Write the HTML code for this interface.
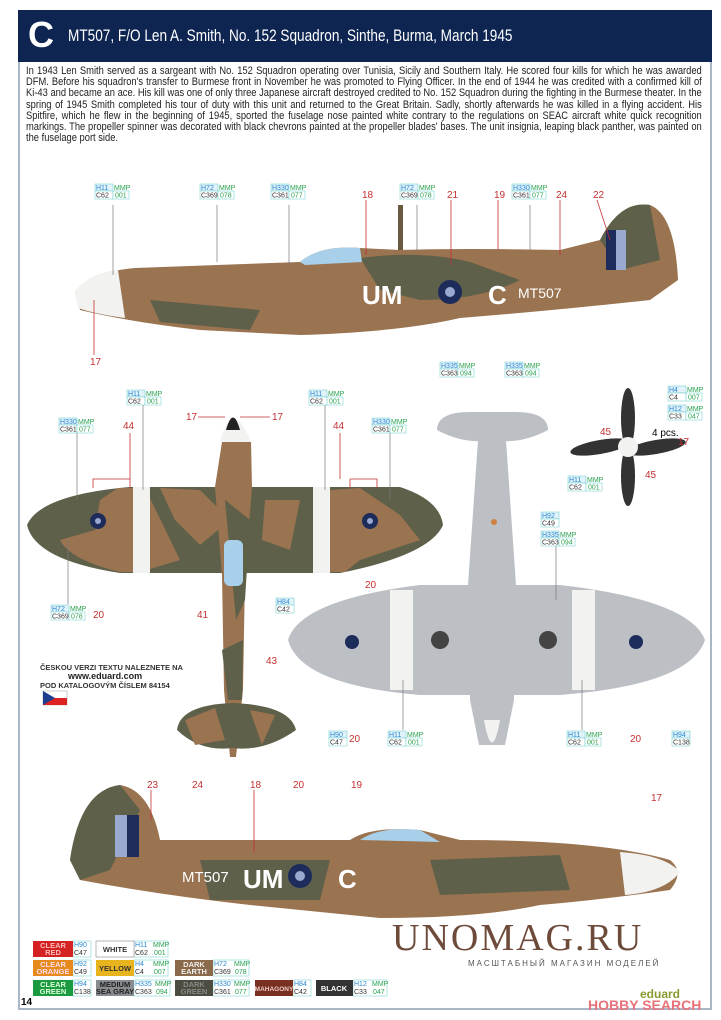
<!DOCTYPE html>
<html><head><meta charset="utf-8"><style>
body{margin:0;background:#fff;width:721px;height:1020px;overflow:hidden;font-family:"Liberation Sans",sans-serif}
.frame{position:absolute;left:18px;top:10px;width:694px;height:1000px;border:2px solid #a9b6c8;box-sizing:border-box}
.hdr{position:absolute;left:18px;top:10px;width:694px;height:52px;background:#0e2552;color:#fff}
.hdr b{position:absolute;left:10px;top:4px;font-size:36px}
.hdr span{position:absolute;left:50px;top:16px;font-size:17px;transform:scaleX(.8);transform-origin:left;white-space:nowrap}
.txt{position:absolute;left:26px;top:66px;width:795px;font-size:11px;line-height:11.2px;color:#222;text-align:justify;transform:scaleX(.85);transform-origin:left top}
svg{position:absolute;left:0;top:0}
.cb text{font-size:7px}
</style></head><body>
<div class="frame"></div>
<div class="hdr"><b>C</b><span>MT507, F/O Len A. Smith, No. 152 Squadron, Sinthe, Burma, March 1945</span></div>
<div class="txt">In 1943 Len Smith served as a sargeant with No. 152 Squadron operating over Tunisia, Sicily and Southern Italy. He scored four kills for which he was awarded DFM. Before his squadron's transfer to Burmese front in November he was promoted to Flying Officer. In the end of 1944 he was credited with a confirmed kill of Ki-43 and became an ace. His kill was one of only three Japanese aircraft destroyed credited to No. 152 Squadron during the fighting in the Burmese theater. In the spring of 1945 Smith completed his tour of duty with this unit and returned to the Great Britain. Sadly, shortly afterwards he was killed in a flying accident. His Spitfire, which he flew in the beginning of 1945, sported the fuselage nose painted white contrary to the regulations on SEAC aircraft white quick recognition markings. The propeller spinner was decorated with black chevrons painted at the propeller blades' bases. The unit insignia, leaping black panther, was painted on the fuselage port side.</div>
<svg width="721" height="1020" font-family="Liberation Sans,sans-serif">
<!-- top side view -->
<path d="M75,292 Q90,272 135,268 L300,262 Q320,245 360,248 L400,250 Q460,248 560,250 L600,240 Q620,200 650,205 Q675,215 678,280 L650,300 Q560,310 460,318 Q400,332 300,335 L200,330 Q130,322 80,310 Z" fill="#9a7350"/>
<path d="M360,258 Q420,250 470,262 L520,280 Q480,300 420,300 L380,290 Z M600,240 Q620,200 650,205 L660,260 L620,270 Z M150,300 L260,310 L250,330 L160,322 Z" fill="#5f604a"/>
<path d="M75,292 Q90,272 118,270 L125,318 Q95,314 78,308 Z" fill="#f2f2f0"/>
<path d="M300,262 Q320,245 360,248 L362,262 L305,265 Z" fill="#a8d0ea"/>
<rect x="606" y="230" width="20" height="40" fill="#1d2c5a"/><rect x="616" y="230" width="10" height="40" fill="#9aa9cf"/>
<text x="362" y="304" font-size="26" fill="#fff" font-weight="bold">UM</text>
<circle cx="450" cy="292" r="12" fill="#1d2c5a"/><circle cx="450" cy="292" r="5" fill="#9aa9cf"/>
<text x="488" y="304" font-size="26" fill="#fff" font-weight="bold">C</text>
<text x="518" y="298" font-size="14" fill="#fff">MT507</text>
<rect x="398" y="205" width="5" height="45" fill="#6a5a40"/>
<!-- top view -->
<path d="M27,525 Q40,495 130,487 L400,487 Q440,500 443,525 Q430,555 340,573 L120,573 Q35,560 27,525 Z" fill="#5f604a"/>
<path d="M100,500 L118,488 L145,488 L180,560 L140,572 L120,572 Q70,560 60,540 L95,530 Z M160,488 L200,490 L230,520 L200,545 L175,520 Z M330,490 L360,488 L400,515 L420,540 L360,560 L345,572 L320,572 Z M265,500 L300,500 L290,550 L262,540 Z" fill="#9a7350"/>
<rect x="133" y="487" width="17" height="86" fill="#f2f2f0"/><rect x="313" y="487" width="17" height="86" fill="#f2f2f0"/>
<circle cx="98" cy="521" r="8" fill="#1d2c5a"/><circle cx="98" cy="521" r="3" fill="#9aa9cf"/><circle cx="370" cy="521" r="8" fill="#1d2c5a"/><circle cx="370" cy="521" r="3" fill="#9aa9cf"/>
<path d="M222,442 L251,442 L252,487 L245,575 L243,690 L236,757 L230,757 L224,690 L222,575 L215,487 Z" fill="#9a7350"/>
<path d="M225,500 L250,520 L245,600 L236,620 Z M222,650 L243,640 L242,700 L228,700 Z" fill="#5f604a"/>
<path d="M220,442 Q232,395 251,442 Z" fill="#f2f2f0"/><path d="M226,430 Q233,405 240,430 Z" fill="#222"/>
<rect x="224" y="540" width="19" height="46" rx="6" fill="#a8d0ea"/>
<path d="M232,703 Q180,705 177,730 Q200,752 232,748 Q265,752 296,730 Q290,705 232,703 Z" fill="#5f604a"/>
<path d="M185,720 L215,708 L225,740 L195,745 Z M250,710 L275,715 L262,745 Z" fill="#9a7350"/>
<!-- bottom view -->
<path d="M288,640 Q300,600 420,585 L560,585 Q690,600 705,640 Q690,685 560,695 L420,695 Q300,685 288,640 Z" fill="#bcc0c4"/>
<path d="M478,440 Q492,400 506,440 L516,585 L514,700 L505,745 L479,745 L470,700 L468,585 Z" fill="#bcc0c4"/>
<path d="M437,430 Q437,412 470,412 L515,412 Q548,412 548,430 Q520,445 492,440 Q465,445 437,430 Z" fill="#bcc0c4"/>
<path d="M484,720 Q492,765 500,720 Z" fill="#f2f2f0"/>
<rect x="390" y="590" width="23" height="100" fill="#f2f2f0"/><rect x="572" y="590" width="23" height="100" fill="#f2f2f0"/>
<circle cx="352" cy="642" r="7" fill="#1d2c5a"/><circle cx="636" cy="642" r="7" fill="#1d2c5a"/>
<circle cx="440" cy="640" r="9" fill="#444"/><circle cx="548" cy="640" r="9" fill="#444"/>
<circle cx="494" cy="522" r="3" fill="#d08040"/>
<!-- prop -->
<ellipse cx="628" cy="418" rx="7" ry="30" fill="#333"/><ellipse cx="628" cy="476" rx="7" ry="30" fill="#333"/>
<ellipse cx="600" cy="447" rx="30" ry="7" fill="#333" transform="rotate(-10 600 447)"/><ellipse cx="656" cy="447" rx="30" ry="7" fill="#333" transform="rotate(-10 656 447)"/>
<circle cx="628" cy="447" r="10" fill="#f2f2f0"/>
<!-- bottom side view -->
<path d="M70,860 Q80,790 120,785 Q150,790 160,840 L350,840 Q370,826 420,830 L460,840 Q600,840 670,860 Q685,872 670,890 Q600,900 540,905 Q480,918 380,918 L250,905 Q160,895 80,880 Z" fill="#9a7350"/>
<path d="M70,860 Q80,790 120,785 L140,810 L110,870 L80,880 Z M200,860 L330,860 L320,900 L210,900 Z M430,860 L560,855 L570,890 L440,895 Z" fill="#5f604a"/>
<path d="M620,852 Q665,855 680,872 Q665,892 625,895 Z" fill="#f2f2f0"/>
<path d="M360,840 Q380,826 420,830 L440,842 Z" fill="#a8d0ea"/>
<rect x="115" y="815" width="24" height="42" fill="#1d2c5a"/><rect x="115" y="815" width="12" height="42" fill="#9aa9cf"/>
<text x="182" y="882" font-size="15" fill="#fff">MT507</text>
<text x="243" y="888" font-size="26" fill="#fff" font-weight="bold">UM</text>
<circle cx="300" cy="876" r="12" fill="#1d2c5a"/><circle cx="300" cy="876" r="5" fill="#9aa9cf"/>
<text x="338" y="888" font-size="26" fill="#fff" font-weight="bold">C</text>
<!-- callouts -->
<g font-size="10" fill="#c43030">
<text x="362" y="198">18</text><text x="447" y="198">21</text><text x="494" y="198">19</text><text x="556" y="198">24</text><text x="593" y="198">22</text>
<text x="90" y="365">17</text><text x="186" y="420">17</text><text x="272" y="420">17</text>
<text x="123" y="429">44</text><text x="333" y="429">44</text><text x="93" y="618">20</text><text x="197" y="618">41</text><text x="365" y="588">20</text>
<text x="266" y="664">43</text><text x="600" y="435">45</text><text x="678" y="445">17</text><text x="645" y="478">45</text><text x="630" y="742">20</text><text x="349" y="742">20</text>
<text x="147" y="788">23</text><text x="192" y="788">24</text><text x="250" y="788">18</text><text x="293" y="788">20</text><text x="351" y="788">19</text><text x="651" y="801">17</text>
</g>
<text x="652" y="436" font-size="10">4 pcs.</text>
<g stroke="#c43030" stroke-width="0.8" fill="none"><line x1="366" y1="200" x2="366" y2="255"/><line x1="451" y1="200" x2="451" y2="265"/><line x1="498" y1="200" x2="498" y2="250"/><line x1="560" y1="200" x2="560" y2="255"/><line x1="597" y1="200" x2="610" y2="240"/><line x1="94" y1="355" x2="94" y2="300"/><line x1="254" y1="790" x2="254" y2="852"/><line x1="151" y1="790" x2="151" y2="820"/><line x1="198" y1="417" x2="225" y2="417"/><line x1="240" y1="417" x2="270" y2="417"/><path d="M93,488 V479 H130 V488 M130,479 V433"/><path d="M350,479 H377 V488 M350,488 V479 M340,479 V433"/></g>
<g stroke="#777" stroke-width="0.7"><line x1="113" y1="205" x2="113" y2="275"/><line x1="217" y1="205" x2="217" y2="262"/><line x1="289" y1="205" x2="289" y2="265"/><line x1="417" y1="205" x2="417" y2="250"/><line x1="530" y1="205" x2="530" y2="250"/><line x1="143" y1="405" x2="143" y2="490"/><line x1="325" y1="405" x2="325" y2="490"/><line x1="77" y1="433" x2="77" y2="500"/><line x1="390" y1="433" x2="390" y2="500"/><line x1="68" y1="604" x2="68" y2="540"/><line x1="556" y1="546" x2="556" y2="600"/><line x1="403" y1="730" x2="403" y2="680"/><line x1="582" y1="730" x2="582" y2="680"/></g>
<g font-size="7.5" font-weight="bold">
<text x="40" y="670" fill="#333">ČESKOU VERZI TEXTU NALEZNETE NA</text>
<text x="68" y="679" fill="#222" font-size="9">www.eduard.com</text>
<text x="40" y="688" fill="#333">POD KATALOGOVÝM ČÍSLEM 84154</text>
</g>
<rect x="43" y="691" width="24" height="14" fill="#fff" stroke="#999" stroke-width=".5"/><rect x="43" y="698" width="24" height="7" fill="#d22"/><path d="M43,691 L55,698 L43,705 Z" fill="#1d3e8e"/>
<g class="cb" font-family="Liberation Sans Narrow,Liberation Sans,sans-serif">
<g transform="translate(95,184)"><rect width="18" height="7" fill="#e2f2fb" stroke="#6cc" stroke-width=".5"/><rect y="7" width="18" height="8" fill="#fff" stroke="#6cc" stroke-width=".5"/><rect x="18" y="7" width="16" height="8" fill="#fff" stroke="#6cc" stroke-width=".5"/><text x="1" y="6" fill="#2a8ad0">H11</text><text x="19" y="6" fill="#2aa050">MMP</text><text x="1" y="13.5" fill="#333">C62</text><text x="20" y="13.5" fill="#2aa050">001</text></g>
<g transform="translate(200,184)"><rect width="18" height="7" fill="#e2f2fb" stroke="#6cc" stroke-width=".5"/><rect y="7" width="18" height="8" fill="#fff" stroke="#6cc" stroke-width=".5"/><rect x="18" y="7" width="16" height="8" fill="#fff" stroke="#6cc" stroke-width=".5"/><text x="1" y="6" fill="#2a8ad0">H72</text><text x="19" y="6" fill="#2aa050">MMP</text><text x="1" y="13.5" fill="#333">C369</text><text x="20" y="13.5" fill="#2aa050">078</text></g>
<g transform="translate(271,184)"><rect width="18" height="7" fill="#e2f2fb" stroke="#6cc" stroke-width=".5"/><rect y="7" width="18" height="8" fill="#fff" stroke="#6cc" stroke-width=".5"/><rect x="18" y="7" width="16" height="8" fill="#fff" stroke="#6cc" stroke-width=".5"/><text x="1" y="6" fill="#2a8ad0">H330</text><text x="19" y="6" fill="#2aa050">MMP</text><text x="1" y="13.5" fill="#333">C361</text><text x="20" y="13.5" fill="#2aa050">077</text></g>
<g transform="translate(400,184)"><rect width="18" height="7" fill="#e2f2fb" stroke="#6cc" stroke-width=".5"/><rect y="7" width="18" height="8" fill="#fff" stroke="#6cc" stroke-width=".5"/><rect x="18" y="7" width="16" height="8" fill="#fff" stroke="#6cc" stroke-width=".5"/><text x="1" y="6" fill="#2a8ad0">H72</text><text x="19" y="6" fill="#2aa050">MMP</text><text x="1" y="13.5" fill="#333">C369</text><text x="20" y="13.5" fill="#2aa050">078</text></g>
<g transform="translate(512,184)"><rect width="18" height="7" fill="#e2f2fb" stroke="#6cc" stroke-width=".5"/><rect y="7" width="18" height="8" fill="#fff" stroke="#6cc" stroke-width=".5"/><rect x="18" y="7" width="16" height="8" fill="#fff" stroke="#6cc" stroke-width=".5"/><text x="1" y="6" fill="#2a8ad0">H330</text><text x="19" y="6" fill="#2aa050">MMP</text><text x="1" y="13.5" fill="#333">C361</text><text x="20" y="13.5" fill="#2aa050">077</text></g>
<g transform="translate(127,390)"><rect width="18" height="7" fill="#e2f2fb" stroke="#6cc" stroke-width=".5"/><rect y="7" width="18" height="8" fill="#fff" stroke="#6cc" stroke-width=".5"/><rect x="18" y="7" width="16" height="8" fill="#fff" stroke="#6cc" stroke-width=".5"/><text x="1" y="6" fill="#2a8ad0">H11</text><text x="19" y="6" fill="#2aa050">MMP</text><text x="1" y="13.5" fill="#333">C62</text><text x="20" y="13.5" fill="#2aa050">001</text></g>
<g transform="translate(309,390)"><rect width="18" height="7" fill="#e2f2fb" stroke="#6cc" stroke-width=".5"/><rect y="7" width="18" height="8" fill="#fff" stroke="#6cc" stroke-width=".5"/><rect x="18" y="7" width="16" height="8" fill="#fff" stroke="#6cc" stroke-width=".5"/><text x="1" y="6" fill="#2a8ad0">H11</text><text x="19" y="6" fill="#2aa050">MMP</text><text x="1" y="13.5" fill="#333">C62</text><text x="20" y="13.5" fill="#2aa050">001</text></g>
<g transform="translate(59,418)"><rect width="18" height="7" fill="#e2f2fb" stroke="#6cc" stroke-width=".5"/><rect y="7" width="18" height="8" fill="#fff" stroke="#6cc" stroke-width=".5"/><rect x="18" y="7" width="16" height="8" fill="#fff" stroke="#6cc" stroke-width=".5"/><text x="1" y="6" fill="#2a8ad0">H330</text><text x="19" y="6" fill="#2aa050">MMP</text><text x="1" y="13.5" fill="#333">C361</text><text x="20" y="13.5" fill="#2aa050">077</text></g>
<g transform="translate(372,418)"><rect width="18" height="7" fill="#e2f2fb" stroke="#6cc" stroke-width=".5"/><rect y="7" width="18" height="8" fill="#fff" stroke="#6cc" stroke-width=".5"/><rect x="18" y="7" width="16" height="8" fill="#fff" stroke="#6cc" stroke-width=".5"/><text x="1" y="6" fill="#2a8ad0">H330</text><text x="19" y="6" fill="#2aa050">MMP</text><text x="1" y="13.5" fill="#333">C361</text><text x="20" y="13.5" fill="#2aa050">077</text></g>
<g transform="translate(440,362)"><rect width="18" height="7" fill="#e2f2fb" stroke="#6cc" stroke-width=".5"/><rect y="7" width="18" height="8" fill="#fff" stroke="#6cc" stroke-width=".5"/><rect x="18" y="7" width="16" height="8" fill="#fff" stroke="#6cc" stroke-width=".5"/><text x="1" y="6" fill="#2a8ad0">H335</text><text x="19" y="6" fill="#2aa050">MMP</text><text x="1" y="13.5" fill="#333">C363</text><text x="20" y="13.5" fill="#2aa050">094</text></g>
<g transform="translate(505,362)"><rect width="18" height="7" fill="#e2f2fb" stroke="#6cc" stroke-width=".5"/><rect y="7" width="18" height="8" fill="#fff" stroke="#6cc" stroke-width=".5"/><rect x="18" y="7" width="16" height="8" fill="#fff" stroke="#6cc" stroke-width=".5"/><text x="1" y="6" fill="#2a8ad0">H335</text><text x="19" y="6" fill="#2aa050">MMP</text><text x="1" y="13.5" fill="#333">C363</text><text x="20" y="13.5" fill="#2aa050">094</text></g>
<g transform="translate(668,386)"><rect width="18" height="7" fill="#e2f2fb" stroke="#6cc" stroke-width=".5"/><rect y="7" width="18" height="8" fill="#fff" stroke="#6cc" stroke-width=".5"/><rect x="18" y="7" width="16" height="8" fill="#fff" stroke="#6cc" stroke-width=".5"/><text x="1" y="6" fill="#2a8ad0">H4</text><text x="19" y="6" fill="#2aa050">MMP</text><text x="1" y="13.5" fill="#333">C4</text><text x="20" y="13.5" fill="#2aa050">007</text></g>
<g transform="translate(668,405)"><rect width="18" height="7" fill="#e2f2fb" stroke="#6cc" stroke-width=".5"/><rect y="7" width="18" height="8" fill="#fff" stroke="#6cc" stroke-width=".5"/><rect x="18" y="7" width="16" height="8" fill="#fff" stroke="#6cc" stroke-width=".5"/><text x="1" y="6" fill="#2a8ad0">H12</text><text x="19" y="6" fill="#2aa050">MMP</text><text x="1" y="13.5" fill="#333">C33</text><text x="20" y="13.5" fill="#2aa050">047</text></g>
<g transform="translate(568,476)"><rect width="18" height="7" fill="#e2f2fb" stroke="#6cc" stroke-width=".5"/><rect y="7" width="18" height="8" fill="#fff" stroke="#6cc" stroke-width=".5"/><rect x="18" y="7" width="16" height="8" fill="#fff" stroke="#6cc" stroke-width=".5"/><text x="1" y="6" fill="#2a8ad0">H11</text><text x="19" y="6" fill="#2aa050">MMP</text><text x="1" y="13.5" fill="#333">C62</text><text x="20" y="13.5" fill="#2aa050">001</text></g>
<g transform="translate(541,531)"><rect width="18" height="7" fill="#e2f2fb" stroke="#6cc" stroke-width=".5"/><rect y="7" width="18" height="8" fill="#fff" stroke="#6cc" stroke-width=".5"/><rect x="18" y="7" width="16" height="8" fill="#fff" stroke="#6cc" stroke-width=".5"/><text x="1" y="6" fill="#2a8ad0">H335</text><text x="19" y="6" fill="#2aa050">MMP</text><text x="1" y="13.5" fill="#333">C363</text><text x="20" y="13.5" fill="#2aa050">094</text></g>
<g transform="translate(51,605)"><rect width="18" height="7" fill="#e2f2fb" stroke="#6cc" stroke-width=".5"/><rect y="7" width="18" height="8" fill="#fff" stroke="#6cc" stroke-width=".5"/><rect x="18" y="7" width="16" height="8" fill="#fff" stroke="#6cc" stroke-width=".5"/><text x="1" y="6" fill="#2a8ad0">H72</text><text x="19" y="6" fill="#2aa050">MMP</text><text x="1" y="13.5" fill="#333">C369</text><text x="20" y="13.5" fill="#2aa050">078</text></g>
<g transform="translate(388,731)"><rect width="18" height="7" fill="#e2f2fb" stroke="#6cc" stroke-width=".5"/><rect y="7" width="18" height="8" fill="#fff" stroke="#6cc" stroke-width=".5"/><rect x="18" y="7" width="16" height="8" fill="#fff" stroke="#6cc" stroke-width=".5"/><text x="1" y="6" fill="#2a8ad0">H11</text><text x="19" y="6" fill="#2aa050">MMP</text><text x="1" y="13.5" fill="#333">C62</text><text x="20" y="13.5" fill="#2aa050">001</text></g>
<g transform="translate(567,731)"><rect width="18" height="7" fill="#e2f2fb" stroke="#6cc" stroke-width=".5"/><rect y="7" width="18" height="8" fill="#fff" stroke="#6cc" stroke-width=".5"/><rect x="18" y="7" width="16" height="8" fill="#fff" stroke="#6cc" stroke-width=".5"/><text x="1" y="6" fill="#2a8ad0">H11</text><text x="19" y="6" fill="#2aa050">MMP</text><text x="1" y="13.5" fill="#333">C62</text><text x="20" y="13.5" fill="#2aa050">001</text></g>
<g transform="translate(541,512)"><rect width="18" height="7" fill="#e2f2fb" stroke="#6cc" stroke-width=".5"/><rect y="7" width="18" height="8" fill="#fff" stroke="#6cc" stroke-width=".5"/><text x="1" y="6" fill="#2a8ad0">H92</text><text x="1" y="13.5" fill="#333">C49</text></g>
<g transform="translate(276,598)"><rect width="18" height="7" fill="#e2f2fb" stroke="#6cc" stroke-width=".5"/><rect y="7" width="18" height="8" fill="#fff" stroke="#6cc" stroke-width=".5"/><text x="1" y="6" fill="#2a8ad0">H84</text><text x="1" y="13.5" fill="#333">C42</text></g>
<g transform="translate(329,731)"><rect width="18" height="7" fill="#e2f2fb" stroke="#6cc" stroke-width=".5"/><rect y="7" width="18" height="8" fill="#fff" stroke="#6cc" stroke-width=".5"/><text x="1" y="6" fill="#2a8ad0">H90</text><text x="1" y="13.5" fill="#333">C47</text></g>
<g transform="translate(672,731)"><rect width="18" height="7" fill="#e2f2fb" stroke="#6cc" stroke-width=".5"/><rect y="7" width="18" height="8" fill="#fff" stroke="#6cc" stroke-width=".5"/><text x="1" y="6" fill="#2a8ad0">H94</text><text x="1" y="13.5" fill="#333">C138</text></g>
<g transform="translate(73,941)"><rect width="18" height="16" fill="#fff" stroke="#6cc" stroke-width=".5"/><text x="1" y="6" fill="#2a8ad0">H90</text><text x="1" y="14" fill="#333">C47</text></g>
<g transform="translate(134,941)"><rect width="34" height="16" fill="#fff" stroke="#6cc" stroke-width=".5"/><text x="1" y="6" fill="#2a8ad0">H11</text><text x="19" y="6" fill="#2aa050">MMP</text><text x="1" y="14" fill="#333">C62</text><text x="20" y="14" fill="#2aa050">001</text></g>
<g transform="translate(73,960)"><rect width="18" height="16" fill="#fff" stroke="#6cc" stroke-width=".5"/><text x="1" y="6" fill="#2a8ad0">H92</text><text x="1" y="14" fill="#333">C49</text></g>
<g transform="translate(134,960)"><rect width="34" height="16" fill="#fff" stroke="#6cc" stroke-width=".5"/><text x="1" y="6" fill="#2a8ad0">H4</text><text x="19" y="6" fill="#2aa050">MMP</text><text x="1" y="14" fill="#333">C4</text><text x="20" y="14" fill="#2aa050">007</text></g>
<g transform="translate(213,960)"><rect width="36" height="16" fill="#fff" stroke="#6cc" stroke-width=".5"/><text x="1" y="6" fill="#2a8ad0">H72</text><text x="21" y="6" fill="#2aa050">MMP</text><text x="1" y="14" fill="#333">C369</text><text x="22" y="14" fill="#2aa050">078</text></g>
<g transform="translate(73,980)"><rect width="18" height="16" fill="#fff" stroke="#6cc" stroke-width=".5"/><text x="1" y="6" fill="#2a8ad0">H94</text><text x="1" y="14" fill="#333">C138</text></g>
<g transform="translate(134,980)"><rect width="36" height="16" fill="#fff" stroke="#6cc" stroke-width=".5"/><text x="1" y="6" fill="#2a8ad0">H335</text><text x="21" y="6" fill="#2aa050">MMP</text><text x="1" y="14" fill="#333">C363</text><text x="22" y="14" fill="#2aa050">094</text></g>
<g transform="translate(213,980)"><rect width="36" height="16" fill="#fff" stroke="#6cc" stroke-width=".5"/><text x="1" y="6" fill="#2a8ad0">H330</text><text x="21" y="6" fill="#2aa050">MMP</text><text x="1" y="14" fill="#333">C361</text><text x="22" y="14" fill="#2aa050">077</text></g>
<g transform="translate(293,980)"><rect width="18" height="16" fill="#fff" stroke="#6cc" stroke-width=".5"/><text x="1" y="6" fill="#2a8ad0">H84</text><text x="1" y="14" fill="#333">C42</text></g>
<g transform="translate(353,980)"><rect width="34" height="16" fill="#fff" stroke="#6cc" stroke-width=".5"/><text x="1" y="6" fill="#2a8ad0">H12</text><text x="19" y="6" fill="#2aa050">MMP</text><text x="1" y="14" fill="#333">C33</text><text x="20" y="14" fill="#2aa050">047</text></g>
</g>
<g font-size="7.5" font-weight="bold" text-anchor="middle">
<rect x="33" y="941" width="40" height="16" fill="#d42222"/><text x="53" y="948" fill="#fbb">CLEAR</text><text x="53" y="955" fill="#fbb">RED</text>
<rect x="96" y="941" width="38" height="16" fill="#fff" stroke="#888" stroke-width=".6"/><text x="115" y="952" fill="#333">WHITE</text>
<rect x="33" y="960" width="40" height="16" fill="#e68a1e"/><text x="53" y="967" fill="#fde">CLEAR</text><text x="53" y="974" fill="#fde">ORANGE</text>
<rect x="96" y="960" width="38" height="16" fill="#e8b41e"/><text x="115" y="971" fill="#333">YELLOW</text>
<rect x="175" y="960" width="38" height="16" fill="#8a6a4a"/><text x="194" y="967" fill="#eee">DARK</text><text x="194" y="974" fill="#eee">EARTH</text>
<rect x="33" y="980" width="40" height="16" fill="#1c9a40"/><text x="53" y="987" fill="#dfd">CLEAR</text><text x="53" y="994" fill="#dfd">GREEN</text>
<rect x="96" y="980" width="38" height="16" fill="#888c90"/><text x="115" y="987" fill="#222">MEDIUM</text><text x="115" y="994" fill="#222">SEA GRAY</text>
<rect x="175" y="980" width="38" height="16" fill="#4c4c40"/><text x="194" y="987" fill="#888">DARK</text><text x="194" y="994" fill="#888">GREEN</text>
<rect x="255" y="980" width="38" height="16" fill="#7a3020"/><text x="274" y="991" fill="#ecc" font-size="6.5">MAHAGONY</text>
<rect x="316" y="980" width="37" height="16" fill="#333"/><text x="334" y="991" fill="#fff">BLACK</text>
</g>
<text x="21" y="1005" font-size="10" font-weight="bold">14</text>
<text x="392" y="950" font-size="38" fill="#6e4a3a" font-family="Liberation Serif,serif" letter-spacing="2">UNOMAG.RU</text>
<text x="468" y="966" font-size="8" fill="#555" letter-spacing="2">МАСШТАБНЫЙ МАГАЗИН МОДЕЛЕЙ</text>
<text x="640" y="998" font-size="12" fill="#8a9a30" font-weight="bold">eduard</text>
<text x="588" y="1010" font-size="14" fill="#e8727a" font-weight="bold">HOBBY SEARCH</text>
</svg>
</body></html>
